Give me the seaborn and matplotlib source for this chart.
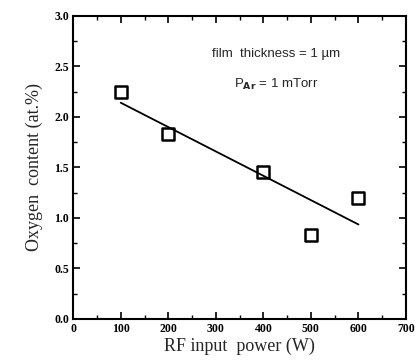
import numpy as np
import pandas as pd
import matplotlib
matplotlib.use("Agg")
import matplotlib.pyplot as plt
import seaborn as sns
from matplotlib.ticker import MultipleLocator

# measured points
power = [100, 200, 400, 500, 600]
oxygen = [2.25, 1.83, 1.45, 0.83, 1.20]

# linear fit line end points
fit_power = [100, 600]
fit_oxygen = [2.14, 0.935]

sns.set_theme(style="ticks")
plt.rcParams["font.family"] = ["Liberation Serif", "DejaVu Serif"]

fig = plt.figure(figsize=(4.16, 3.6), dpi=100)
ax = fig.add_axes([0.176, 0.114, 0.800, 0.842])

pts = pd.DataFrame({"power": power, "oxygen": oxygen})
fit = pd.DataFrame({"power": fit_power, "oxygen": fit_oxygen})

sns.lineplot(data=fit, x="power", y="oxygen", color="black", linewidth=1.3, ax=ax)
sns.scatterplot(data=pts, x="power", y="oxygen", marker="s", s=75,
                facecolor="none", edgecolor="black", linewidth=1.8, ax=ax, zorder=3)

ax.set_xlim(0, 700)
ax.set_ylim(0, 3.0)
ax.xaxis.set_major_locator(MultipleLocator(100))
ax.xaxis.set_minor_locator(MultipleLocator(50))
ax.yaxis.set_major_locator(MultipleLocator(0.5))
ax.yaxis.set_minor_locator(MultipleLocator(0.25))
ax.yaxis.set_major_formatter(matplotlib.ticker.FormatStrFormatter("%.1f"))
ax.tick_params(which="both", direction="in", top=True, right=True, colors="black")
ax.tick_params(which="major", length=5, width=1.2, labelsize=8.5, pad=3)
ax.tick_params(which="minor", length=3, width=1.0)
for lab in ax.get_xticklabels() + ax.get_yticklabels():
    lab.set_fontweight("bold")
for sp in ax.spines.values():
    sp.set_linewidth(1.5)
    sp.set_color("black")

ax.set_xlabel("RF input  power (W)", fontsize=13, labelpad=2)
ax.set_ylabel("Oxygen  content (at.%)", fontsize=13, labelpad=8)

ax.text(0.61, 0.875, "film  thickness = 1 \u00b5m", transform=ax.transAxes,
        ha="center", va="center", fontsize=9.5, family=["Liberation Sans", "DejaVu Sans"])
ax.text(0.61, 0.775, r"P$_{\mathbf{Ar}}$ = 1 mTorr", transform=ax.transAxes,
        ha="center", va="center", fontsize=9.5, family=["Liberation Sans", "DejaVu Sans"])

fig.savefig("out.png", dpi=100)
